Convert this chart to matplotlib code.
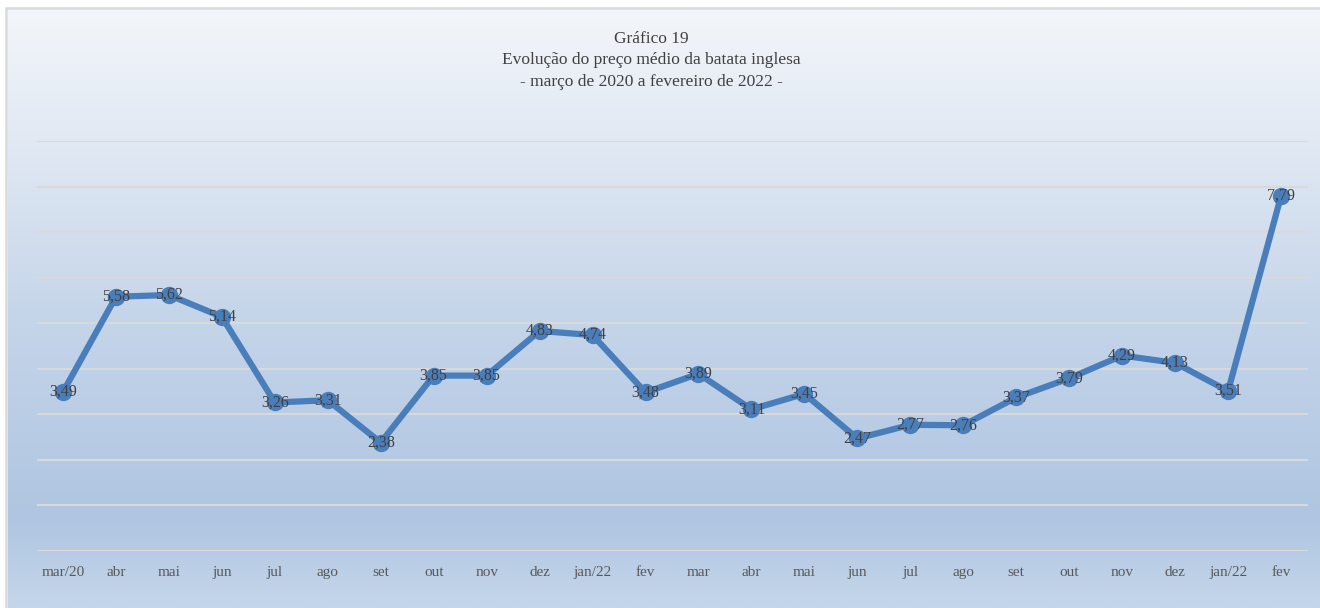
import matplotlib.pyplot as plt
import numpy as np
from matplotlib.colors import LinearSegmentedColormap
from matplotlib.patches import Rectangle

meses = ['mar/20', 'abr', 'mai', 'jun', 'jul', 'ago', 'set', 'out', 'nov', 'dez', 'jan/22', 'fev',
         'mar', 'abr', 'mai', 'jun', 'jul', 'ago', 'set', 'out', 'nov', 'dez', 'jan/22', 'fev']
preco = [3.49, 5.58, 5.62, 5.14, 3.26, 3.31, 2.38, 3.85, 3.85, 4.83, 4.74, 3.48,
         3.89, 3.11, 3.45, 2.47, 2.77, 2.76, 3.37, 3.79, 4.29, 4.13, 3.51, 7.79]
titulo = 'Gráfico 19\nEvolução do preço médio da batata inglesa\n- março de 2020 a fevereiro de 2022 -'

plt.rcParams['font.family'] = ['Liberation Serif', 'DejaVu Serif']

fig = plt.figure(figsize=(13.2, 6.08), dpi=100)

# background gradient of the chart area (light on top, blue below)
bg = fig.add_axes([8/1320, 0, 1 - 8/1320, 1 - 10/608])
bg.set_axis_off()
cmap = LinearSegmentedColormap.from_list('fundo', [
    (0.0, '#f3f6fa'), (0.2, '#e3eaf4'), (0.5, '#c6d6ea'),
    (0.85, '#afc5e1'), (1.0, '#c4d6ea')])
grad = np.linspace(0, 1, 256).reshape(-1, 1)
bg.imshow(grad, aspect='auto', cmap=cmap, extent=[0, 1, 0, 1], origin='lower')
bg.set_xlim(0, 1)
bg.set_ylim(1, 0)

# thin gray border
fig.patches.append(Rectangle((6.5/1320, -0.01), 1.02, 1 - 7.5/608 + 0.01,
                             transform=fig.transFigure, fill=False,
                             edgecolor='#d9d9d9', linewidth=1.8))

ax = fig.add_axes([36.5/1320, 1 - 551/608, 1271/1320, (551 - 141)/608])
ax.patch.set_alpha(0)
x = np.arange(len(preco))
ax.plot(x, preco, '-o', color='#4a7ebb', linewidth=4.5, markersize=11.5, zorder=3)
for xi, v in zip(x, preco):
    ax.text(xi, v, f'{v:.2f}'.replace('.', ','), ha='center', va='center',
            fontsize=11.5, color='#404040', zorder=4)

ax.set_xlim(-0.5, len(preco) - 0.5)
ax.set_ylim(0, 9)
ax.set_yticks(np.arange(0, 10, 1))
ax.yaxis.grid(True, color='#d9d9d9', linewidth=1.5)
ax.set_axisbelow(True)
ax.tick_params(axis='y', left=False, labelleft=False)
ax.set_xticks(x)
ax.set_xticklabels(meses, fontsize=11, color='#595959')
ax.tick_params(axis='x', length=0, pad=11)
for s in ax.spines.values():
    s.set_visible(False)

fig.text(651/1320, 1 - 31/608, titulo, ha='center', va='top', fontsize=12.5,
         color='#404040', linespacing=1.45)

fig.savefig('out.png', dpi=100)
